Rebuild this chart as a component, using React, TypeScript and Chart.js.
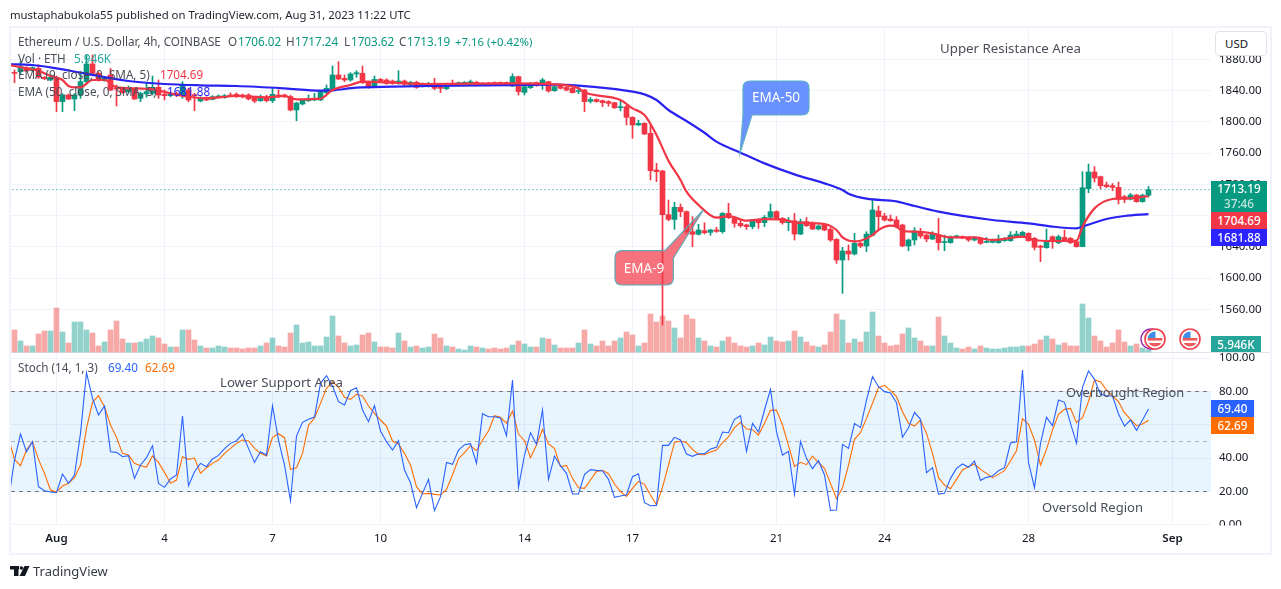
import React, { useEffect, useRef } from "react";
import { Chart, registerables } from "chart.js";
Chart.register(...registerables);

const FONT = '"Noto Sans", sans-serif';
const firstCandle = -7;
const opens = [
1862.5,1864.2,1869.3,1865.4,1868.4,1856.9,1853.5,1856.9,1825.8,1834.3,
1829.2,1834.3,1851.4,1874,1862,1853.5,1859.9,1843,1842.8,1838.6,
1841.5,1830,1835.8,1836.4,1844.1,1835.2,1833.4,1836,1834.3,1840.7,
1834.3,1826.6,1830.9,1828.7,1831.7,1830.9,1834.3,1835.2,1834.3,1834.3,
1831.3,1827,1831.3,1827,1834.3,1834.3,1832.2,1815.1,1822.8,1827,
1827.9,1827.9,1837.3,1841.5,1859.9,1855.6,1853.5,1861.2,1862,1851.4,
1845.8,1854.3,1853.5,1852.2,1849.2,1852.2,1847.1,1850.5,1845.8,1845.8,
1849.2,1845.8,1842.4,1849.2,1847.1,1848,1848,1850.5,1847.1,1849.2,
1850,1850,1850,1845.8,1857.8,1837.7,1843.7,1850,1847.1,1851.4,
1839.8,1847.1,1844,1842.8,1838.8,1840.7,1826.2,1828.5,1827,1825.8,
1824.5,1818,1819.4,1805.7,1796,1798,1785.2,1738.3,1737,1681.1,
1675,1690.5,1685,1659.4,1656,1660.6,1658.5,1661.5,1659.4,1682.8,
1677.3,1670,1668,1665.8,1674.3,1670.9,1677.7,1685,1676.4,1670.9,
1673.4,1656.3,1672.2,1669.2,1662.8,1667.9,1662.3,1649.5,1623.1,1634.6,
1630.8,1644.4,1641,1655,1685.8,1679.4,1675.5,1674.3,1667.9,1641,
1648.7,1659.4,1655,1650,1655,1645.5,1645.3,1652,1653,1652,
1648.7,1650.8,1645.7,1645.7,1645.3,1647.8,1647.8,1652.9,1653,1657.2,
1650.8,1641,1638.9,1652.9,1645.3,1652,1650.8,1646.5,1640.2,1714.4,
1735.7,1729.8,1719.1,1718.2,1716.1,1704.2,1701,1706.3,1697.8,1706.02];
const highs = [
1866.3,1877,1870.5,1870.5,1873,1858,1858,1858.6,1836,1835.5,
1836,1864.2,1885.5,1885.5,1864,1858,1868.4,1847.1,1844,1845.8,
1843,1838,1849.2,1858.6,1853.5,1840.7,1838,1838,1851.4,1843,
1836.4,1832,1832,1833.5,1834.5,1835,1837,1837,1835.5,1836,
1832.5,1834.3,1834,1844.1,1841,1835.5,1834,1825,1829,1834.3,
1836.4,1840,1847.1,1871.4,1877,1859.9,1862.9,1865.4,1871.4,1852,
1858.6,1855.5,1855,1853.5,1865.4,1853.5,1852,1852,1849.5,1850.5,
1855.6,1847,1848,1853.5,1851,1851.5,1853.5,1852,1850,1850.5,
1851,1851,1851,1861.5,1858.5,1846,1850.5,1851,1855.6,1852,
1847,1848,1845,1843.5,1845,1841.5,1831,1829.5,1828,1827,
1825,1827.9,1821,1806.6,1802,1799,1796,1746.8,1738,1699.9,
1697,1694.8,1686,1678.6,1668.8,1670.9,1662.5,1665,1684,1695.6,
1678.6,1674,1669,1675,1675.5,1680,1694.8,1686,1677.5,1677.5,
1682.8,1675.5,1677.5,1672,1668,1670,1665.8,1650.5,1639.3,1642.3,
1657.2,1646,1659.4,1701.2,1692.2,1682.8,1680.7,1678.6,1669,1650,
1664.5,1663.6,1656,1659.4,1676.4,1655,1654,1655,1654,1653,
1653,1652,1652,1650,1655,1652,1659.4,1660,1660,1658,
1652,1642,1662.8,1654,1655,1661.5,1652,1648,1736.2,1746,
1742.5,1730.5,1722.9,1721,1722.9,1706,1708.4,1707,1707.5,1717.24];
const lows = [
1850,1861.2,1864,1864.5,1855.6,1854,1852.5,1813,1813,1828.5,
1814.2,1830,1849.2,1860,1852,1852,1839.8,1820.2,1836.5,1836.4,
1828.5,1825.8,1831.5,1834.3,1830,1827.9,1832,1832,1830,1825.8,
1814.2,1825.5,1827,1828,1830.5,1830,1832,1831,1830.5,1828,
1824.5,1826,1825.5,1824.5,1831,1831,1814,1801.4,1821.5,1826,
1827,1827,1836,1840.5,1853.8,1851.4,1852,1857,1849,1843,
1844.5,1850,1848,1848,1848,1846.5,1846,1842.8,1844.5,1844.5,
1841,1837.3,1841,1846,1846,1847,1847,1846,1846.5,1846,
1847,1847,1846,1845,1834.3,1834.3,1842.5,1845.5,1841.5,1838,
1839,1842,1839.5,1836.8,1836,1813,1824,1825,1819.4,1820,
1817,1814,1795.9,1778.8,1795,1783.5,1725.5,1723.4,1539.9,1673.4,
1662.3,1678.6,1657.2,1640.2,1655,1656.5,1654.7,1658.5,1657.5,1676,
1665,1665,1662.3,1663,1663.6,1665.8,1676.5,1675.5,1669,1660.6,
1648.7,1655.5,1666,1662,1661.5,1660.5,1647,1618.8,1580.4,1623.1,
1629.5,1639,1633.8,1654,1662.3,1673,1672.5,1664.5,1640,1635,
1642.3,1651,1646.5,1649,1635.9,1635,1644.5,1651,1650.5,1647,
1647.5,1643,1645,1645,1644.5,1647,1647,1652,1652,1647,
1635.9,1621,1638,1638,1644,1647,1644,1639.5,1640,1709.3,
1722.9,1714.4,1715.5,1711.8,1694.8,1696.5,1700,1697,1697,1703.62];
const closes = [
1862,1870.6,1865,1869.3,1856.9,1855.2,1856.9,1825.8,1834.3,1829.2,
1834.3,1851.4,1874,1862,1853.5,1856,1840.7,1842,1837.3,1841.5,
1829.2,1836.4,1838.6,1844.1,1834.3,1833.4,1836.4,1834,1847.1,1827.9,
1833.4,1830.9,1827.9,1832.2,1833,1833.4,1833,1832.2,1832.2,1829.2,
1826.6,1832.2,1827,1835.2,1832.2,1832.2,1815.1,1824,1827.9,1829.2,
1830,1838.6,1842.8,1859.9,1854.8,1853.5,1861.2,1862.9,1850.1,1845,
1854.3,1851.4,1849.2,1849.2,1852.2,1848,1850.5,1844.1,1848,1849.2,
1842.8,1842.8,1847.1,1847.1,1850,1850.5,1851.4,1846.7,1849.2,1847.1,
1848,1848,1847.1,1857.8,1838.6,1845,1849.2,1846.2,1853.5,1839.4,
1845,1842.8,1840.7,1837.3,1839.8,1825.8,1828.5,1826,1824.5,1823.6,
1818,1819.4,1805.7,1795.9,1798,1784.4,1737.4,1736.2,1681.1,1675.1,
1690.5,1685,1659.4,1656,1661.5,1658,1661.5,1659.8,1682.8,1677.3,
1670,1667,1665.8,1674.3,1670.9,1677.7,1685,1676.4,1670.9,1673.4,
1656.3,1672.2,1667,1662.8,1666.6,1661.5,1648.7,1623.1,1634.6,1630.8,
1644.4,1641,1656.3,1687.1,1678.6,1674.3,1673.4,1665.8,1641,1648.7,
1660.2,1653.8,1650,1656.3,1645.3,1646.5,1653,1654,1651.3,1648.7,
1651.7,1644.4,1646.5,1646.5,1649.5,1650.8,1655,1656.3,1658.5,1647.8,
1639.3,1639.3,1647.8,1646.5,1652.9,1647.8,1645.3,1640.2,1715.7,1735.7,
1728,1718.2,1717,1716.1,1700.7,1700.7,1706.3,1697.8,1706.02,1713.19];
const volumes = [
55,27.5,15,15,45,52.5,52.5,110,50,22.5,
75,75,55,47.5,15,25,55,77.5,32.5,22.5,
22.5,25,32.5,40,35,20,12.5,12.5,55,55,
30,15,10,10,15,12.5,10,10,7.5,10,
10,15,22.5,35,15,12.5,47.5,67.5,22.5,25,
15,15,37.5,90,40,22.5,15,17.5,42.5,47.5,
25,12.5,12.5,10,47.5,27.5,12.5,15,10,12.5,
45,35,15,12.5,7.5,5,15,12.5,10,7.5,
10,7.5,10,17.5,27.5,20,12.5,12.5,35,32.5,
17.5,10,10,10,22.5,55,20,15,27.5,15,
27.5,35,50,42.5,15,22.5,95,75,90,77.5,
60,35,92.5,82.5,35,27.5,15,12.5,27.5,37.5,
22.5,15,12.5,15,22.5,17.5,37.5,27.5,25,27.5,
52.5,37.5,25,15,12.5,17.5,50,95,80,22.5,
32.5,25,50,100,40,22.5,15,17.5,45,60,
35,27.5,15,15,87.5,40,22.5,10,7.5,12.5,
7.5,15,10,7.5,7.5,10,12.5,12.5,15,15,
20,30,40,32.5,17.5,22.5,15,15,120,85,
40,27.5,12.5,22.5,55,25,15,20,10,5.946];

const ema9Index = [-8,-5,-3,-1,0,1,2,3,4,6,8,10,13,16,19,22,25,30,35,38,40,44,46,49,51,55,62,76,83,87,88,94,96,98,100,102,104,105,107,110,112,115,118,121,123,128,130,131,132,133,134,136,137,139,140,141,143,146,149,153,156,161,163,166,170,171,173,176,178,182];
const ema9Values = [1873,1868.4,1865.4,1858.6,1856.5,1853.5,1845.8,1844.1,1844.1,1853.5,1853.5,1844.1,1842.8,1841.5,1836.4,1832.2,1830,1833,1831.3,1833,1828.7,1829.6,1840.7,1847.1,1851.4,1850.5,1848.4,1849.2,1848,1842.8,1837.7,1827.9,1817.2,1808.7,1783.1,1750,1725.5,1710.5,1693.5,1677.3,1679.4,1673.4,1675.5,1675,1671.3,1669.2,1661.5,1652,1648,1647,1647.8,1655,1661.5,1667,1665.8,1660.2,1659.4,1657.2,1652,1652,1648.7,1652.9,1648.7,1647.4,1647.8,1665.8,1689.2,1701.2,1702,1704.69];
const ema50Index = [-8,-4,0,4,12,18,24,30,38,44,46,50,56,62,77,83,87,92,96,98,100,102,105,108,110,114,118,123,128,131,132,135,140,142,147,156,162,166,170,171,175,178,182];
const ema50Values = [1873.7,1872.7,1868.4,1862.9,1852.2,1848.4,1846.7,1845.8,1842.8,1839.9,1840.3,1843.7,1845,1845.8,1847.1,1847.5,1846.2,1842.8,1838.6,1835.1,1827.9,1815.1,1801,1786,1774.6,1760.5,1746.8,1732.7,1721.2,1712.7,1708,1701.6,1698.2,1694.3,1685,1674.3,1670,1665.8,1663.6,1665.8,1675.6,1679.4,1681.88];

const stochStart = -8;
const stochK = [14.8,
38.8,54.4,43.8,49.8,22.8,20.4,19.6,19.2,30.4,24.8,
29.8,54.8,91.2,75.8,65.8,71.2,43.8,43.4,40.8,41.4,
27.8,35.8,40.2,47.4,24.8,22.4,27.4,29.8,65.2,23.4,
31.8,36.8,34.8,39.4,41.6,45.6,48.8,50.4,54.4,45.8,
37.4,43.8,41.8,71.4,50.8,35.8,14.4,53.2,61.4,63.2,
64.6,84.8,89.4,83.2,73.8,71.8,80.4,82.2,68.8,61.8,
71.4,56.2,49.8,44.8,50.4,32.8,25.2,10.2,18.8,27.2,
8.4,16.8,37.4,36.2,44.8,48,48.6,36.8,66.6,64.8,
64.8,64,53.4,86.8,22.4,41.8,55.2,48.2,68.8,27.2,
41.2,35.4,30.8,18.4,18.4,30.2,33,32.6,32.4,27.2,
16.4,17.2,18,28.8,30.6,13.2,11.4,11.6,47.6,47.6,
52.4,50.8,42.4,41,42.6,42.6,45.4,46.4,55.6,55.2,
63.2,65.4,44,60.8,55.6,68.8,81.2,55.8,41.8,44,
18.4,50,39.8,33.6,38.4,29.8,8.6,8.8,48.2,45.8,
60.8,58.2,74.8,88.8,82.8,79.8,79,73.2,52.4,58.2,
67.4,63.2,31.2,34.2,18.4,18.8,27.8,33.8,36.4,34.4,
38.2,26.6,28.4,29.2,32.4,34.2,49,49.8,92.8,37.4,
22.2,48.8,64.4,59.4,74.8,73.4,60.8,48.8,82.4,92.2,
87.2,78.2,77.4,77.2,66.4,59.2,62.8,56.6,62.8,69.4];
const stochD = [51.8,
39.2,35.4,44.8,49.8,39.2,30.8,20.8,19.6,23.2,24.8,
28.2,35.8,57.8,73.4,77.4,70.8,59.8,52.4,42.8,41.8,
36.8,35.4,34.6,41.2,37.4,31.4,24.8,26.8,40.8,39.2,
40,30.8,34.2,36.8,38.8,42.8,45.8,48.8,50.8,50.2,
45.8,42.8,41.2,52.4,54.6,52.2,33.2,34.2,42.8,59.6,
64,72.8,81.8,85.8,82.4,76.4,75.2,78.2,77.2,71.2,
66.8,62.8,59.2,50.2,48.4,42.8,35.8,22.8,18.4,18.8,
18.2,17.8,21.2,29.8,39.6,43.2,47.4,44.4,50.8,56.2,
65.4,64.4,60.8,68.2,54.4,50.4,40.2,47.8,57.2,48.4,
45.8,34.8,35.6,27.8,22.2,21.8,26.8,32,32.6,30.6,
24.4,19.8,17,21.8,26,24.2,17.8,11.8,22.4,35.8,
49.4,50.2,49.2,45.2,42.2,42,43.6,44.8,49.2,52.6,
58.2,61.4,57.4,57,53.8,60.8,68.6,68.8,59.8,47.6,
34.8,37.4,36,41.2,37.2,33.8,24.8,15.6,22.2,35.8,
51.2,55.2,63.8,72.8,82.2,83.6,80.4,76.8,67.8,60.8,
59.2,62.8,54.8,42.8,28.2,23.8,21.6,27.2,32.8,34.8,
36.4,33.2,30.8,28.2,30.2,32.4,38.4,44.4,63.6,60.2,
50.8,35.8,45.2,56.8,66.2,69.2,69.8,61.2,64.2,73.8,
86.8,85.8,80.8,77.2,73.8,67.2,63.2,59.4,60.4,62.69];

const timeTicks = [0,18,36,54,78,96,120,138,162,186];
const timeLabels = ["Aug","4","7","10","14","17","21","24","28","Sep"];
const priceTicks = [1560,1600,1640,1680,1720,1760,1800,1840,1880];
const stochTicks = [0,20,40,60,80,100];
const lastPrice = 1713.19;

const UP = "#089981", DOWN = "#f23645";
const VUP = "rgba(38,166,154,0.5)", VDOWN = "rgba(239,83,80,0.5)";
const xs = opens.map((_, i) => i + firstCandle);
const isUp = opens.map((o, i) => closes[i] >= o);

function roundedPoly(ctx: any, pts: number[][], r: number, idxRounded: boolean[]) {
  const n = pts.length;
  ctx.beginPath();
  for (let i = 0; i < n; i++) {
    const p = pts[i], q = pts[(i + 1) % n], o = pts[(i - 1 + n) % n];
    if (!idxRounded[i]) { i === 0 ? ctx.moveTo(p[0], p[1]) : ctx.lineTo(p[0], p[1]); continue; }
    const d1 = Math.hypot(o[0]-p[0], o[1]-p[1]), d2 = Math.hypot(q[0]-p[0], q[1]-p[1]);
    const a = [p[0]+(o[0]-p[0])*r/d1, p[1]+(o[1]-p[1])*r/d1];
    const b = [p[0]+(q[0]-p[0])*r/d2, p[1]+(q[1]-p[1])*r/d2];
    i === 0 ? ctx.moveTo(a[0], a[1]) : ctx.lineTo(a[0], a[1]);
    ctx.quadraticCurveTo(p[0], p[1], b[0], b[1]);
  }
  ctx.closePath();
}

function flag(ctx: any, cx: number, cy: number) {
  ctx.save();
  ctx.beginPath(); ctx.arc(cx, cy, 10, 0, Math.PI*2); ctx.fillStyle = "#fff"; ctx.fill();
  ctx.lineWidth = 1.6; ctx.strokeStyle = "#f0404c"; ctx.stroke();
  ctx.beginPath(); ctx.arc(cx, cy, 7.5, 0, Math.PI*2); ctx.clip();
  ctx.fillStyle = "#fff"; ctx.fillRect(cx-9, cy-9, 18, 18);
  ctx.fillStyle = "#ef5a5a"; ctx.fillRect(cx-9, cy-1, 18, 2.6); ctx.fillRect(cx-9, cy+4, 18, 4);
  ctx.fillStyle = "#3f8fe8"; ctx.fillRect(cx-9, cy-9, 9.5, 8);
  ctx.restore();
}

const overlay = {
  id: "overlay",
  beforeDatasetsDraw(chart: any) {
    const { ctx, scales, chartArea } = chart;
    const s = scales.yS;
    ctx.save();
    ctx.fillStyle = "rgba(33,150,243,0.1)";
    ctx.fillRect(chartArea.left, s.getPixelForValue(80), chartArea.width, s.getPixelForValue(20) - s.getPixelForValue(80));
    [[80,"#787b86"],[50,"rgba(120,123,134,0.55)"],[20,"#787b86"]].forEach(([v,c]: any) => {
      const y = Math.round(s.getPixelForValue(v)) + 0.5;
      ctx.strokeStyle = c; ctx.lineWidth = 1; ctx.setLineDash([4,4]);
      ctx.beginPath(); ctx.moveTo(chartArea.left, y); ctx.lineTo(chartArea.right, y); ctx.stroke();
    });
    ctx.setLineDash([]);
    ctx.strokeStyle = "#e0e3eb"; ctx.beginPath(); ctx.moveTo(11, 352.5); ctx.lineTo(1270, 352.5); ctx.stroke();
    ctx.restore();
  },
  afterDatasetsDraw(chart: any) {
    const { ctx } = chart;
    ctx.save();
    ctx.lineWidth = 1.2;
    ctx.fillStyle = "rgba(41,98,255,0.7)"; ctx.strokeStyle = "#5fb0c8";
    const a = [[743,81],[809,81],[809,115],[752,115],[740,153.3],[743,115]];
    roundedPoly(ctx, a, 7, [true,true,true,false,false,false]);
    ctx.fill(); ctx.stroke();
    ctx.fillStyle = "rgba(242,54,69,0.7)"; ctx.strokeStyle = "#5fa8b8";
    const b = [[615,250.7],[665,250.7],[703.3,210],[673.3,258.3],[673.3,285],[615,285]];
    roundedPoly(ctx, b, 7, [true,false,false,false,true,true]);
    ctx.fill(); ctx.stroke();
    ctx.beginPath(); ctx.arc(1151, 339, 10, 0, Math.PI*2); ctx.strokeStyle = "#9c27b0"; ctx.lineWidth = 1.4; ctx.stroke();
    flag(ctx, 1155, 339);
    flag(ctx, 1190, 339);
    ctx.restore();
  },
  afterDraw(chart: any) {
    const { ctx } = chart;
    ctx.save();
    ctx.fillStyle = "#fff"; ctx.fillRect(1212, 525.5, 56, 10);
    ctx.fillStyle = "#131722";
    ctx.fillRect(10, 566, 9, 3.5); ctx.fillRect(14, 566, 4.5, 10);
    ctx.beginPath(); ctx.arc(21.4, 568, 1.8, 0, Math.PI*2); ctx.fill();
    ctx.beginPath(); ctx.moveTo(24.5,566); ctx.lineTo(29.5,566); ctx.lineTo(25,576); ctx.lineTo(19.5,576); ctx.closePath(); ctx.fill();
    ctx.restore();
  },
};

function Txt({ x, y, c = "#4a4e59", size = 11.7, w, children }: any) {
  return <div style={{ position: "absolute", left: x, top: y, transform: "translateY(-50%)", color: c, fontSize: size, fontWeight: w || 400, fontFamily: FONT, whiteSpace: "nowrap", lineHeight: 1 }}>{children}</div>;
}
function Tag({ x = 1211, y, h, wd, bg, children }: any) {
  return <div style={{ position: "absolute", left: x, top: y, width: wd, height: h, background: bg, color: "#fff", fontFamily: FONT, fontSize: 11.7, fontWeight: 500, textAlign: "center", lineHeight: h + "px" }}>{children}</div>;
}

export default function App() {
  const ref = useRef<HTMLCanvasElement>(null);
  useEffect(() => {
    const candle = (ys: any[], colors: string[], t: number, order: number, extra: any = {}) => ({
      type: "bar", xAxisID: "x", yAxisID: "yP", data: xs.map((x, i) => ({ x, y: ys[i] })),
      backgroundColor: colors, borderWidth: 0, barThickness: t, grouped: false, order, ...extra,
    });
    const line = (px: number[], py: number[], color: string, w: number, axis: string, order: number, extra: any = {}) => ({
      type: "line", xAxisID: "x", yAxisID: axis, data: px.map((x, i) => ({ x, y: py[i] })),
      borderColor: color, borderWidth: w, pointRadius: 0, tension: 0, fill: false, order, ...extra,
    });
    const sx = stochK.map((_, i) => i + stochStart);
    const chart = new Chart(ref.current as any, {
      data: {
        datasets: [
          { type: "bar", xAxisID: "x", yAxisID: "yV", data: xs.map((x, i) => ({ x, y: volumes[i] })),
            backgroundColor: isUp.map(u => u ? VUP : VDOWN), borderWidth: 0, barThickness: 5, grouped: false, order: 9 },
          candle(xs.map((_, i) => [lows[i], highs[i]]), isUp.map(u => u ? UP : DOWN), 1, 7),
          candle(xs.map((_, i) => [opens[i], closes[i]]), isUp.map(u => u ? UP : DOWN), 5, 6, { minBarLength: 1 }),
          line([-8, 193], [lastPrice, lastPrice], UP, 1, "yP", 8, { borderDash: [1, 3] }),
          line(ema50Index, ema50Values, "#2a23f0", 2.2, "yP", 4, { cubicInterpolationMode: "monotone" }),
          line(ema9Index, ema9Values, "#f23645", 2.2, "yP", 3, { cubicInterpolationMode: "monotone" }),
          line(sx, stochD, "#ff6d00", 1.1, "yS", 2),
          line(sx, stochK, "#2962ff", 1.1, "yS", 1),
        ] as any,
      },
      options: {
        animation: false, responsive: false, devicePixelRatio: 1,
        parsing: { xAxisKey: "x", yAxisKey: "y" } as any,
        layout: { padding: { left: 11, top: 28, right: 13, bottom: 39 } },
        plugins: { legend: { display: false }, tooltip: { enabled: false }, title: { display: false } },
        scales: {
          x: {
            type: "linear", min: -7.583, max: 192.417, position: "bottom", offset: false,
            afterBuildTicks: (a: any) => { a.ticks = timeTicks.map(value => ({ value })); },
            afterFit: (a: any) => { a.height = 25; },
            grid: { color: "#f0f3fa", drawTicks: false, offset: false },
            border: { display: false },
            ticks: {
              autoSkip: false, maxRotation: 0, minRotation: 0, padding: 7, color: "#131722",
              font: (c: any) => ({ family: FONT, size: 11.5, weight: c.tick && (c.tick.value === 0 || c.tick.value === 186) ? 600 : 400 }),
              callback: (v: any) => timeLabels[timeTicks.indexOf(v)],
            },
          },
          yP: {
            type: "linear", position: "right", stack: "right", stackWeight: 327, weight: 1, min: 1501.5, max: 1920.06,
            afterBuildTicks: (a: any) => { a.ticks = priceTicks.map(value => ({ value })); },
            afterFit: (a: any) => { a.width = 57; },
            grid: { color: "#f0f3fa", drawTicks: false }, border: { display: false },
            ticks: { autoSkip: false, padding: 8, color: "#131722", font: { family: FONT, size: 11.5 }, callback: (v: any) => Number(v).toFixed(2) },
          },
          yS: {
            type: "linear", position: "right", stack: "right", stackWeight: 170, weight: 1, min: -0.18, max: 101.8,
            afterBuildTicks: (a: any) => { a.ticks = stochTicks.map(value => ({ value })); },
            afterFit: (a: any) => { a.width = 57; },
            grid: { color: "#f0f3fa", drawTicks: false }, border: { display: false },
            ticks: { autoSkip: false, padding: 8, color: "#131722", font: { family: FONT, size: 11.5 }, callback: (v: any) => Number(v).toFixed(2) },
          },
          yV: { type: "linear", display: false, position: "right", min: -432.5, max: 810 },
        },
      } as any,
      plugins: [overlay],
    });
    return () => chart.destroy();
  }, []);
  const G = "#089981";
  return (
    <div style={{ position: "fixed", left: 0, top: 0, width: 1281, height: 589, background: "#fff", overflow: "hidden" }}>
      <canvas ref={ref} width={1281} height={589} style={{ position: "absolute", left: 0, top: 0, width: 1281, height: 589 }} />
      <div style={{ position: "absolute", left: 9, top: 26, width: 1259, height: 525, border: "2px solid #f0f3fa", pointerEvents: "none" }} />
      <Txt x={10} y={15} c="#1e222d" size={11.35}>mustaphabukola55 published on TradingView.com, Aug 31, 2023 11:22 UTC</Txt>
      <Txt x={18} y={42}>Ethereum / U.S. Dollar, 4h, COINBASE</Txt>
      <Txt x={228} y={42}>O</Txt><Txt x={238} y={42} c={G}>1706.02</Txt>
      <Txt x={286} y={42}>H</Txt><Txt x={295} y={42} c={G}>1717.24</Txt>
      <Txt x={344} y={42}>L</Txt><Txt x={351} y={42} c={G}>1703.62</Txt>
      <Txt x={399} y={42}>C</Txt><Txt x={407} y={42} c={G}>1713.19</Txt>
      <Txt x={455} y={42} c={G} size={11.4}>+7.16 (+0.42%)</Txt>
      <Txt x={18} y={59}>Vol · ETH</Txt><Txt x={74} y={59} c="#26a69a">5.946K</Txt>
      <Txt x={18} y={75}>EMA (9, close, 0, SMA, 5)</Txt><Txt x={160} y={75} c="#f23645">1704.69</Txt>
      <Txt x={18} y={92}>EMA (50, close, 0, SMA, 5)</Txt><Txt x={167} y={92} c="#2a23f0">1681.88</Txt>
      <Txt x={18} y={368}>Stoch (14, 1, 3)</Txt><Txt x={108} y={368} c="#2962ff">69.40</Txt><Txt x={145} y={368} c="#ff6d00">62.69</Txt>
      <Txt x={220} y={383} size={13.2}>Lower Support Area</Txt>
      <Txt x={940} y={49} size={13.3}>Upper Resistance Area</Txt>
      <Txt x={1066} y={392} size={12.8}>Overbought Region</Txt>
      <Txt x={1042} y={507} size={13}>Oversold Region</Txt>
      <Txt x={33} y={571} size={13} c="#363a45">TradingView</Txt>
      <div style={{ position: "absolute", left: 1215, top: 31, width: 41, height: 23, paddingLeft: 9, background: "#fff", border: "1px solid #e0e3eb", borderRadius: 4, color: "#131722", fontFamily: FONT, fontSize: 11.5, lineHeight: "23px" }}>USD</div>
      <div style={{ position: "absolute", left: 1211, top: 181, width: 56, height: 31, background: UP, color: "#fff", fontFamily: FONT, fontSize: 11.7, fontWeight: 500, textAlign: "center", lineHeight: "15px" }}>
        <div>1713.19</div><div style={{ opacity: 0.75 }}>37:46</div>
      </div>
      <Tag y={212} h={17} wd={56} bg={DOWN}>1704.69</Tag>
      <Tag y={229} h={17} wd={56} bg="#2a23ff">1681.88</Tag>
      <Tag y={336} h={16} wd={50} bg="#26a69a">5.946K</Tag>
      <Tag y={400} h={17} wd={43} bg="#2962ff">69.40</Tag>
      <Tag y={417} h={17} wd={43} bg="#ff6d00">62.69</Tag>
      <div style={{ position: "absolute", left: 743, width: 66, top: 81, height: 34, color: "#fff", fontFamily: FONT, fontSize: 13.5, lineHeight: "32px", textAlign: "center" }}>EMA-50</div>
      <div style={{ position: "absolute", left: 615, width: 58, top: 251, height: 34, color: "#fff", fontFamily: FONT, fontSize: 13.5, lineHeight: "34px", textAlign: "center" }}>EMA-9</div>
    </div>
  );
}
